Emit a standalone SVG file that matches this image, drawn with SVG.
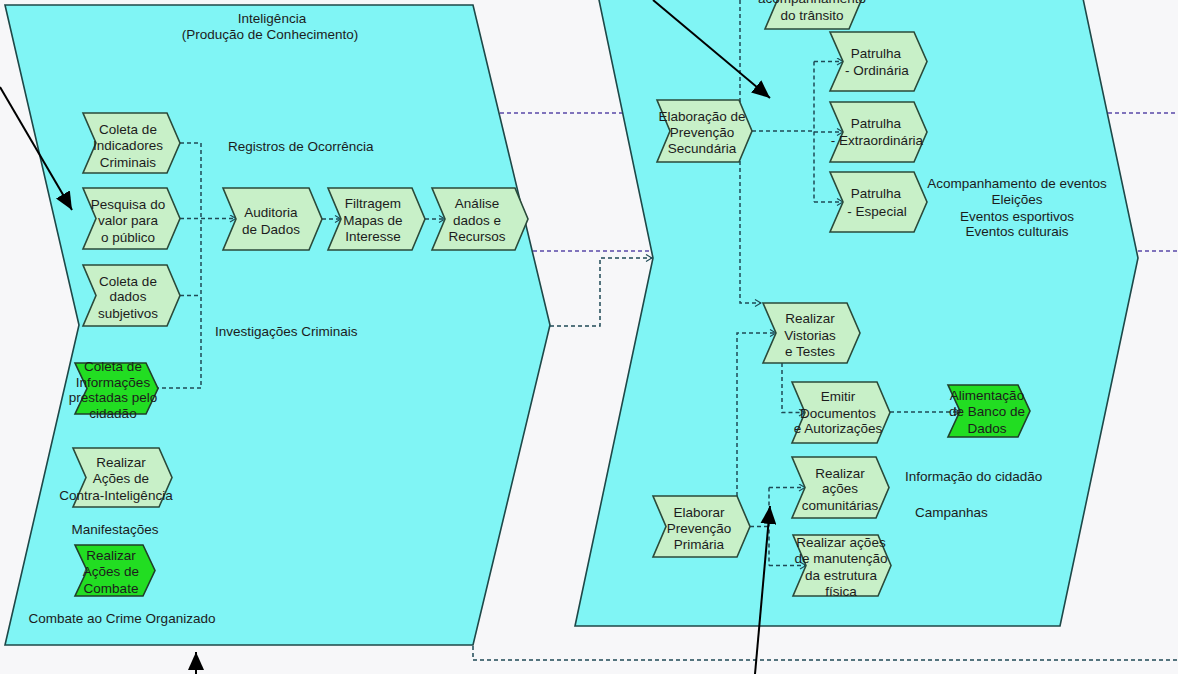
<svg xmlns="http://www.w3.org/2000/svg" width="1178" height="674" viewBox="0 0 1178 674">
<style>
.bg{fill:#f7f7f9}
.lane{fill:#80f5f5;stroke:#1e4848;stroke-width:1.6}
.fn{fill:#c8f0c8;stroke:#2a4a3a;stroke-width:1.6}
.fg{fill:#22dd22;stroke:#1f3f2a;stroke-width:1.6}
text{font-family:"Liberation Sans",Arial,sans-serif;font-size:13.5px;fill:#1c1c1c;text-anchor:middle}
.l{text-anchor:start}
.dc{fill:none;stroke:#1f4a56;stroke-width:1.5;stroke-dasharray:4 3}
.dp{fill:none;stroke:#5a48a8;stroke-width:1.5;stroke-dasharray:4 3}
.ar{fill:none;stroke:#000;stroke-width:2}
</style>
<defs>
<marker id="oa" markerWidth="8" markerHeight="8" refX="7" refY="4" orient="auto" markerUnits="userSpaceOnUse">
<path d="M1,0.5 L7,4 L1,7.5" fill="none" stroke="#1f4a56" stroke-width="1.2"/>
</marker>
<marker id="ba" markerWidth="20" markerHeight="16" refX="18" refY="8" orient="auto" markerUnits="userSpaceOnUse">
<path d="M0,0 L18,8 L0,16 Z" fill="#000"/>
</marker>
</defs>
<rect class="bg" x="0" y="0" width="1178" height="674"/>
<g id="lane-inteligencia">
<polygon class="lane" points="5,5 473,5 550,325 473,645 5,645 79,325"/>
<text x="272" y="23">Inteligência</text>
<text x="270" y="39">(Produção de Conhecimento)</text>
</g>
<g id="lane-prevencao">
<polygon class="lane" points="576,-110 1060,-110 1138,258 1060,626 575,626 653,258"/>
</g>
<g id="connectors">
<path class="dp" d="M500,113 H622"/>
<path class="dp" d="M1108,113 H1178"/>
<path class="dp" d="M533,251 H650"/>
<path class="dp" d="M1138,251 H1178"/>
<path class="dc" d="M550,326 H600 V258 H652" marker-end="url(#oa)"/>
<path class="dc" d="M473,646 V660 H1178"/>
<path class="dc" d="M180,143 H201 V388 H158"/>
<path class="dc" d="M180,295.5 H201"/>
<path class="dc" d="M180,218.5 H236" marker-end="url(#oa)"/>
<path class="dc" d="M322,219 H341" marker-end="url(#oa)"/>
<path class="dc" d="M425,219 H445" marker-end="url(#oa)"/>
<path class="dc" d="M740,0 V303 H761" marker-end="url(#oa)"/>
<path class="dc" d="M752,131 H814"/>
<path class="dc" d="M814,61.5 V202"/>
<path class="dc" d="M814,61.5 H843" marker-end="url(#oa)"/>
<path class="dc" d="M814,132 H843" marker-end="url(#oa)"/>
<path class="dc" d="M814,202 H843" marker-end="url(#oa)"/>
<path class="dc" d="M737,496 V333 H776" marker-end="url(#oa)"/>
<path class="dc" d="M782,363 V412.5 H805" marker-end="url(#oa)"/>
<path class="dc" d="M890,412 H960" marker-end="url(#oa)"/>
<path class="dc" d="M750,526.5 H769"/>
<path class="dc" d="M769,487.5 V565.5"/>
<path class="dc" d="M769,487.5 H805" marker-end="url(#oa)"/>
<path class="dc" d="M769,565.5 H806" marker-end="url(#oa)"/>
<path class="ar" d="M0,87 L72,210" marker-end="url(#ba)"/>
<path class="ar" d="M653,0 L770,98" marker-end="url(#ba)"/>
<path class="ar" d="M196,674 V652" marker-end="url(#ba)"/>
<path class="ar" d="M755,674 L770,506" marker-end="url(#ba)"/>
</g>
<g id="n-coleta-indicadores">
<polygon class="fn" points="83,113 167,113 180,143 167,173 83,173 96,143"/>
<text x="128" y="134">Coleta de</text><text x="128" y="150">Indicadores</text><text x="128" y="167">Criminais</text>
</g>
<g id="t-registros"><text class="l" x="228" y="151">Registros de Ocorrência</text></g>
<g id="n-pesquisa">
<polygon class="fn" points="83,188 167,188 180,218.5 167,249 83,249 96,218.5"/>
<text x="128" y="209">Pesquisa do</text><text x="128" y="225">valor para</text><text x="128" y="242">o público</text>
</g>
<g id="n-auditoria">
<polygon class="fn" points="223,188 309,188 322,219 309,250 223,250 236,219"/>
<text x="271" y="217">Auditoria</text><text x="271" y="234">de Dados</text>
</g>
<g id="n-filtragem">
<polygon class="fn" points="328,188 412,188 425,219 412,250 328,250 341,219"/>
<text x="373" y="208">Filtragem</text><text x="373" y="225">Mapas de</text><text x="373" y="241">Interesse</text>
</g>
<g id="n-analise">
<polygon class="fn" points="432,188 515,188 528,219 515,250 432,250 445,219"/>
<text x="477" y="208">Análise</text><text x="477" y="225">dados e</text><text x="477" y="241">Recursos</text>
</g>
<g id="n-coleta-subjetivos">
<polygon class="fn" points="83,265 167,265 180,295.5 167,326 83,326 96,295.5"/>
<text x="128" y="286">Coleta de</text><text x="128" y="301">dados</text><text x="128" y="318">subjetivos</text>
</g>
<g id="t-investigacoes"><text class="l" x="215" y="336">Investigações Criminais</text></g>
<g id="n-coleta-informacoes">
<polygon class="fg" points="75,363 146,363 158,388.5 146,414 75,414 87,388.5"/>
<text x="113" y="371">Coleta de</text><text x="113" y="387">Informações</text><text x="113" y="402">prestadas pelo</text><text x="113" y="418">cidadão</text>
</g>
<g id="n-contra">
<polygon class="fn" points="73,448 159,448 172,477.5 159,507 73,507 86,477.5"/>
<text x="121" y="467">Realizar</text><text x="121" y="483">Ações de</text><text x="116" y="500">Contra-Inteligência</text>
</g>
<g id="t-manifestacoes"><text x="115" y="534">Manifestações</text></g>
<g id="n-combate">
<polygon class="fg" points="75,545 143,545 155,570.5 143,596 75,596 87,570.5"/>
<text x="111" y="560">Realizar</text><text x="111" y="576">Ações de</text><text x="111" y="593">Combate</text>
</g>
<g id="t-crime"><text x="122" y="623">Combate ao Crime Organizado</text></g>
<g id="n-transito">
<polygon class="fn" points="765,-32 849,-32 862,-1.5 849,29 765,29 778,-1.5"/>
<text x="812" y="3">acompanhamento</text><text x="812" y="20">do trânsito</text>
</g>
<g id="n-secundaria">
<polygon class="fn" points="657,100 739,100 752,131 739,162 657,162 670,131"/>
<text x="702" y="121">Elaboração de</text><text x="702" y="137">Prevenção</text><text x="702" y="153">Secundária</text>
</g>
<g id="n-ordinaria">
<polygon class="fn" points="830,32 914,32 927,61.5 914,91 830,91 843,61.5"/>
<text x="876" y="58">Patrulha</text><text x="877" y="75">- Ordinária</text>
</g>
<g id="n-extraordinaria">
<polygon class="fn" points="830,102 914,102 927,132 914,162 830,162 843,132"/>
<text x="876" y="128">Patrulha</text><text x="877" y="145">- Extraordinária</text>
</g>
<g id="n-especial">
<polygon class="fn" points="830,172 914,172 927,202 914,232 830,232 843,202"/>
<text x="876" y="198">Patrulha</text><text x="877" y="216">- Especial</text>
</g>
<g id="t-eventos">
<text x="1017" y="188">Acompanhamento de eventos</text><text x="1017" y="204">Eleições</text><text x="1017" y="221">Eventos esportivos</text><text x="1017" y="236">Eventos culturais</text>
</g>
<g id="n-vistorias">
<polygon class="fn" points="763,303 847,303 860,333 847,363 763,363 776,333"/>
<text x="810" y="323">Realizar</text><text x="810" y="340">Vistorias</text><text x="810" y="356">e Testes</text>
</g>
<g id="n-emitir">
<polygon class="fn" points="792,382 877,382 890,412.5 877,443 792,443 805,412.5"/>
<text x="838" y="401">Emitir</text><text x="838" y="418">Documentos</text><text x="838" y="433">e Autorizações</text>
</g>
<g id="n-alimentacao">
<polygon class="fg" points="948,385 1018,385 1030,411 1018,437 948,437 960,411"/>
<text x="987" y="400">Alimentação</text><text x="987" y="416">de Banco de</text><text x="987" y="433">Dados</text>
</g>
<g id="t-informacao"><text class="l" x="905" y="481">Informação do cidadão</text></g>
<g id="t-campanhas"><text class="l" x="915" y="517">Campanhas</text></g>
<g id="n-comunitarias">
<polygon class="fn" points="792,457 876,457 889,487.5 876,518 792,518 805,487.5"/>
<text x="840" y="478">Realizar</text><text x="840" y="493">ações</text><text x="840" y="510">comunitárias</text>
</g>
<g id="n-primaria">
<polygon class="fn" points="653,496 737,496 750,526.5 737,557 653,557 666,526.5"/>
<text x="699" y="517">Elaborar</text><text x="699" y="533">Prevenção</text><text x="699" y="549">Primária</text>
</g>
<g id="n-manutencao">
<polygon class="fn" points="793,535 878,535 891,565.5 878,596 793,596 806,565.5"/>
<text x="841" y="547">Realizar ações</text><text x="841" y="563">de manutenção</text><text x="841" y="580">da estrutura</text><text x="841" y="596">física</text>
</g>
</svg>
